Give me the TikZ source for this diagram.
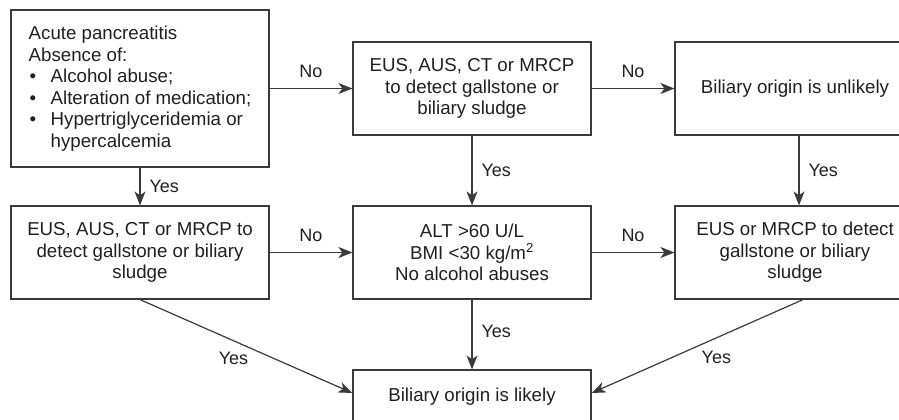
\documentclass[tikz,border=0pt]{standalone}
\usepackage{fontspec}
\setmainfont{Liberation Sans}
\usetikzlibrary{arrows.meta}
\definecolor{linec}{HTML}{3A3A3A}
\definecolor{textc}{HTML}{231F20}
\begin{document}
\begin{tikzpicture}[x=1pt,y=-1pt,
  box/.style={draw=linec, line width=1.2pt, fill=white, inner sep=0pt, align=center,
    text=textc, font=\fontsize{18.7}{21.5}\selectfont},
  arr/.style={draw=linec, line width=1.2pt, -{Stealth[length=14pt,width=11pt,inset=4pt]}},
  lbl/.style={text=textc, font=\fontsize{18}{21}\selectfont, inner sep=3pt}]
\useasboundingbox (0,0) rectangle (899,420);
\clip (0,0) rectangle (899,420);
\fill[white] (0,0) rectangle (899,420);

\node[box, minimum width=258pt, minimum height=157pt, align=left] (A) at (140,88.5)
  {Acute pancreatitis\\
   Absence of:\\
   \hspace*{1pt}\makebox[21pt][l]{\textbullet}Alcohol abuse;\\
   \hspace*{1pt}\makebox[21pt][l]{\textbullet}Alteration of medication;\\
   \hspace*{1pt}\makebox[21pt][l]{\textbullet}Hypertriglyceridemia or\\
   \hspace*{22pt}hypercalcemia};
\node[box, minimum width=238pt, minimum height=93pt] (B) at (472,88.5)
  {EUS, AUS, CT or MRCP\\to detect gallstone or\\biliary sludge};
\node[box, minimum width=240pt, minimum height=93pt] (C) at (795,88.5)
  {Biliary origin is unlikely};
\node[box, minimum width=258pt, minimum height=93pt] (D) at (140,252.5)
  {EUS, AUS, CT or MRCP to\\detect gallstone or biliary\\sludge};
\node[box, minimum width=238pt, minimum height=93pt] (E) at (472,252.5)
  {ALT >60 U/L\\BMI <30 kg/m\textsuperscript{2}\\No alcohol abuses};
\node[box, minimum width=240pt, minimum height=93pt] (F) at (795,252.5)
  {EUS or MRCP to detect\\gallstone or biliary\\sludge};
\node[box, minimum width=238pt, minimum height=53pt] (G) at (472,396.5)
  {Biliary origin is likely};

\draw[arr] (A) -- node[lbl, above=7pt]{No} (B);
\draw[arr] (B) -- node[lbl, above=7pt]{No} (C);
\draw[arr] (A) -- node[lbl, right=6pt]{Yes} (D);
\draw[arr] (B) -- node[lbl, right=6pt]{Yes} (E);
\draw[arr] ([xshift=4pt]C.south) -- node[lbl, right=6pt]{Yes} ([xshift=4pt]F.north);
\draw[arr] (D) -- node[lbl, above=7pt]{No} (E);
\draw[arr] (E) -- node[lbl, above=7pt]{No} (F);
\draw[arr] (E) -- node[lbl, pos=0.45, right=6pt]{Yes} (G);
\draw[arr] (D.south) -- node[lbl, pos=0.44, below=8pt]{Yes} ([yshift=3.5pt]G.west);
\draw[arr] ([xshift=8pt]F.south) -- node[lbl, pos=0.41, below=10pt]{Yes} ([yshift=3.5pt]G.east);
\end{tikzpicture}
\end{document}
